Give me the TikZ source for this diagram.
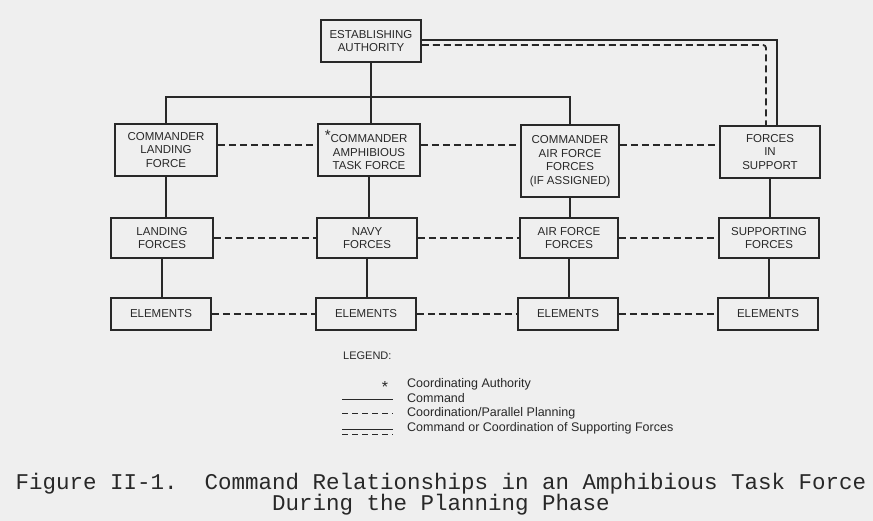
\documentclass[tikz,border=0pt]{standalone}
\usepackage{fontspec}
\setmainfont{Liberation Sans}
\newfontfamily\typewriter{Liberation Mono}
\usepackage{tikz}
\definecolor{pagegray}{RGB}{239,239,239}
\definecolor{inkgray}{RGB}{40,40,40}

\begin{document}
\begin{tikzpicture}[x=1pt,y=-1pt,
  unit/.style={draw=inkgray,line width=1.8pt,align=center,text=inkgray,
    font=\fontsize{11.5}{13.5}\selectfont,inner sep=0pt},
  cmd/.style={draw=inkgray,line width=1.8pt},
  coord/.style={draw=inkgray,line width=1.8pt,dash pattern=on 7pt off 4pt},
  legtext/.style={anchor=west,text=inkgray,font=\fontsize{12.5}{13}\selectfont,inner sep=0pt}]
% Draw the page
\fill[pagegray] (0,0) rectangle (873,521);
\useasboundingbox (0,0) rectangle (873,521);
% Top box
\node[unit,minimum width=100pt,minimum height=42pt] (ea) at (371,41) {ESTABLISHING\\AUTHORITY};
% Commanders
\node[unit,minimum width=102pt,minimum height=52pt] (clf) at (166,150) {COMMANDER\\LANDING\\FORCE};
\node[unit,minimum width=102pt,minimum height=52pt] (catf) at (369,150) {\llap{\raisebox{2pt}{\fontsize{15}{15}\selectfont*}}COMMANDER\\AMPHIBIOUS\\TASK FORCE};
\node[unit,minimum width=98pt,minimum height=72pt] (caff) at (570,161) {COMMANDER\\AIR FORCE\\FORCES\\(IF ASSIGNED)};
\node[unit,minimum width=100pt,minimum height=52pt] (fis) at (770,152) {FORCES\\IN\\SUPPORT};
% Forces
\node[unit,minimum width=102pt,minimum height=40pt] (lf) at (162,238) {LANDING\\FORCES};
\node[unit,minimum width=100pt,minimum height=40pt] (nf) at (367,238) {NAVY\\FORCES};
\node[unit,minimum width=98pt,minimum height=40pt] (aff) at (569,238) {AIR FORCE\\FORCES};
\node[unit,minimum width=100pt,minimum height=40pt] (sf) at (769,238) {SUPPORTING\\FORCES};
% Elements
\node[unit,minimum width=100pt,minimum height=32pt] (e1) at (161,314) {ELEMENTS};
\node[unit,minimum width=100pt,minimum height=32pt] (e2) at (366,314) {ELEMENTS};
\node[unit,minimum width=100pt,minimum height=32pt] (e3) at (568,314) {ELEMENTS};
\node[unit,minimum width=100pt,minimum height=32pt] (e4) at (768,314) {ELEMENTS};
% Command lines
\coordinate (bus) at (371,97);
\draw[cmd] (clf.north) |- (bus) -| (caff.north);
\draw[cmd] (ea.south) -- (ea.south |- catf.north);
\draw[cmd] (clf.south) -- (clf.south |- lf.north);
\draw[cmd] (catf.south) -- (catf.south |- nf.north);
\draw[cmd] (caff.south) -- (caff.south |- aff.north);
\draw[cmd] (fis.south) -- (fis.south |- sf.north);
\draw[cmd] (lf.south) -- (lf.south |- e1.north);
\draw[cmd] (nf.south) -- (nf.south |- e2.north);
\draw[cmd] (aff.south) -- (aff.south |- e3.north);
\draw[cmd] (sf.south) -- (sf.south |- e4.north);
% Supporting forces
\draw[cmd] ([yshift=1pt]ea.east) -| ([xshift=7pt]fis.north);
\draw[coord,rounded corners=3pt] ([yshift=-4pt]ea.east) -| ([xshift=-4pt]fis.north);
% Coordination lines
\draw[coord] ([yshift=5pt]clf.east) -- ([yshift=5pt]catf.west);
\draw[coord] ([yshift=5pt]catf.east) -- ([yshift=5pt]catf.east -| caff.west);
\draw[coord] ([yshift=16pt]caff.east) -- ([yshift=16pt]caff.east -| fis.west);
\draw[coord] (lf) -- (nf);
\draw[coord] (nf) -- (aff);
\draw[coord] (aff) -- (sf);
\draw[coord] (e1) -- (e2);
\draw[coord] (e2) -- (e3);
\draw[coord] (e3) -- (e4);
% Legend
\node[legtext,font=\fontsize{11}{12}\selectfont] (legend) at (343,356) {LEGEND:};
\node[text=inkgray,inner sep=0pt,font=\fontsize{16}{16}\selectfont] (star) at (385,387) {*};
\node[legtext] (l1) at (407,384) {Coordinating Authority};
\node[legtext] (l2) at (407,398) {Command};
\node[legtext] (l3) at (407,413) {Coordination/Parallel Planning};
\node[legtext] (l4) at (407,428) {Command or Coordination of Supporting Forces};
\draw[cmd,line width=1pt] (342,399) -- (393,399);
\draw[coord,line width=1pt,dash pattern=on 6pt off 4pt] (342,413) -- (393,413);
\draw[cmd,line width=1pt] (342,429) -- (393,429);
\draw[coord,line width=1pt,dash pattern=on 6pt off 4pt] (342,434) -- (393,434);
% Caption
\node[align=center,text=inkgray,font=\typewriter\fontsize{22.5}{21}\selectfont] (caption) at (441,494)
  {Figure II-1.~~Command Relationships in an Amphibious Task Force\\During the Planning Phase};
\end{tikzpicture}
\end{document}
